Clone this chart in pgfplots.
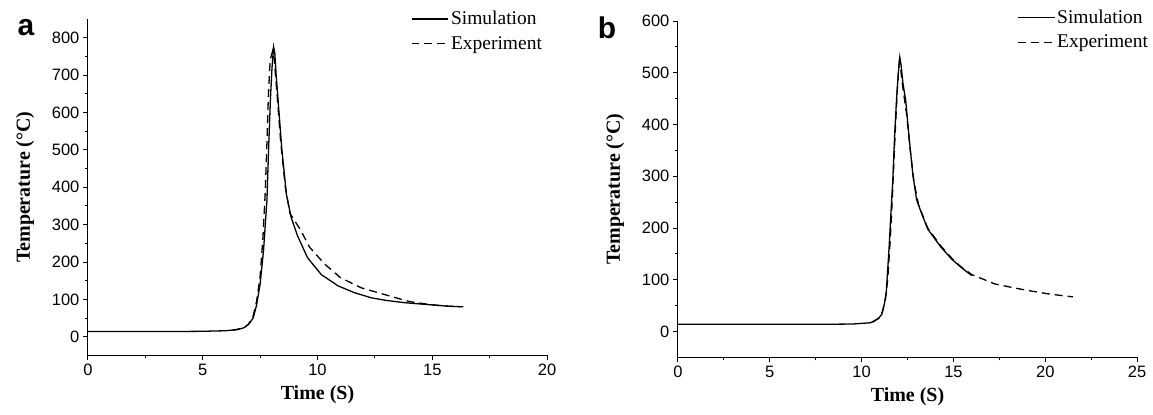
\documentclass[border=0pt]{standalone}
\usepackage{fontspec}
\setmainfont{Liberation Serif}
\setsansfont{Liberation Sans}
\usepackage{pgfplots}
\pgfplotsset{compat=1.18}

\pgfplotsset{
  tempax/.style={
    scale only axis,
    width=460pt, height=337pt,
    axis lines*=left,
    axis line style={line width=0.9pt},
    tick align=outside,
    major tick length=5pt, minor tick length=3pt,
    every tick/.style={black, line width=0.8pt},
    minor x tick num=1, minor y tick num=1,
    /pgf/number format/assume math mode=true,
    ticklabel style={font=\fontsize{16.5}{16.5}\selectfont\sffamily},
    label style={font=\fontsize{20}{20}\selectfont\bfseries},
    xlabel={Time (S)}, ylabel={Temperature (°C)},
    ylabel style={yshift=11pt},
    xlabel style={yshift=-3pt},
    legend style={draw=none, fill=none, font=\fontsize{19.5}{21}\selectfont,
      row sep=6pt},
    legend cell align=left,
    legend image code/.code={\draw[#1] (0pt,0pt) -- (37pt,0pt);},
  },
  sim/.style={black, line width=1.3pt},
  exp/.style={black, line width=1.3pt, dash pattern=on 8pt off 5pt},
}

\begin{document}
\begin{tikzpicture}
\path (-88pt,-59pt) rectangle (1065pt,356pt);
\begin{axis}[tempax, at={(0pt,0pt)},
  xmin=0, xmax=20, ymin=-50, ymax=850,
  xtick={0,5,10,15,20}, ytick={0,100,...,800},
  legend style={at={(rel axis cs:1.0,1.035)}, anchor=north east}]
\addplot[sim] coordinates {(0,14) (2,14) (4,14) (5,14.5) (6,16) (6.5,19) (6.8,24)
 (7.0,33) (7.2,50) (7.35,85) (7.5,140) (7.65,230) (7.8,366) (7.87,500) (7.95,634)
 (8.02,720) (8.09,775) (8.14,760) (8.2,700) (8.3,620) (8.45,500) (8.65,380)
 (8.85,320) (9.13,270) (9.57,211) (10.17,166) (10.9,136) (11.6,118) (12.35,104)
 (13.0,97) (13.8,91) (14.8,86) (15.6,82) (16.35,80)};
\addlegendentry{Simulation}
\addplot[exp] coordinates {(6.3,17) (6.8,24) (7.0,34) (7.2,56) (7.35,95) (7.5,160)
 (7.62,260) (7.72,380) (7.8,520) (7.86,640) (7.92,720) (7.96,745) (8.05,765)
 (8.12,740) (8.25,640) (8.4,520) (8.6,400) (8.8,330) (9.26,286) (9.65,240)
 (10.3,195) (11.0,158) (11.9,131) (12.8,115) (14.0,94) (14.9,86) (15.6,82) (16.2,80)};
\addlegendentry{Experiment}
\end{axis}
\node[font=\fontsize{30}{30}\selectfont\sffamily\bfseries] at (-62pt,328pt) {a};

\begin{axis}[tempax, at={(591pt,-2pt)},
  xmin=0, xmax=25, ymin=-50, ymax=600,
  xtick={0,5,...,25}, ytick={0,100,...,600},
  legend style={at={(rel axis cs:1.035,1.045)}, anchor=north east}]
\addplot[sim] coordinates {(0,14) (4,14) (8,14) (9.5,14.5) (10.5,17) (10.9,25)
 (11.1,33) (11.25,55) (11.35,79) (11.5,164) (11.6,230) (11.7,293) (11.8,380)
 (11.9,447) (12.0,500) (12.08,530) (12.15,515) (12.25,480) (12.4,447) (12.6,370)
 (12.8,300) (13.0,254) (13.3,225) (13.6,198) (14.3,164) (14.9,140) (15.45,123) (16.0,108)};
\addlegendentry{Simulation}
\addplot[exp] coordinates {(10.6,18) (10.95,26) (11.15,40) (11.3,62) (11.42,100)
 (11.55,170) (11.65,240) (11.75,320) (11.85,400) (11.95,470) (12.05,520)
 (12.12,510) (12.25,470) (12.45,420) (12.65,350) (12.85,290) (13.1,245)
 (13.6,200) (14.3,166) (15.0,138) (15.45,124) (16.0,110) (17.25,92) (18.2,85)
 (19.1,79) (20.3,72) (21.5,67)};
\addlegendentry{Experiment}
\end{axis}
\node[font=\fontsize{30}{30}\selectfont\sffamily\bfseries] at (520pt,328pt) {b};
\end{tikzpicture}
\end{document}
